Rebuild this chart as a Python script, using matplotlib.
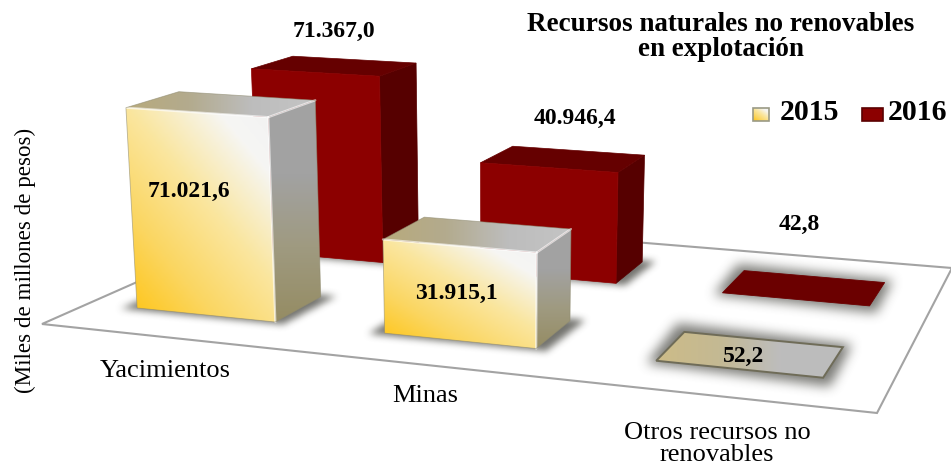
import numpy as np
import matplotlib
matplotlib.use("Agg")
import matplotlib.pyplot as plt
from matplotlib.colors import LinearSegmentedColormap, to_rgb
from matplotlib.patches import Polygon
from matplotlib.path import Path

plt.rcParams["font.family"] = ["Liberation Serif", "DejaVu Serif"]

# data
categories = ["Yacimientos", "Minas", "Otros recursos no\nrenovables"]
years = ["2015", "2016"]
values_2015 = [71021.6, 31915.1, 52.2]
values_2016 = [71367.0, 40946.4, 42.8]

W, H = 951, 470

# floor homography: corners of the floor, in figure pixels
FLOOR = [(42, 324), (877, 413), (952, 268), (291, 214)]
U_START = 0.068      # left edge of first group
U_STEP = 0.3335      # group spacing
U_WIDTH = 0.19       # bar width
V_FRONT = {"2015": 0.155, "2016": 0.64}
V_DEPTH = 0.19
VANISH_X = 500
VANISH_DIST = 6500

# gold/grey shading of the 2015 bars
GOLD = LinearSegmentedColormap.from_list(
    "gold", [(0, "#FFC30F"), (0.28, "#FBD661"), (0.55, "#FAE69F"), (0.82, "#F6F6F4"), (1, "#F2F2F2")])
SIDE = LinearSegmentedColormap.from_list("side", ["#958C63", "#9F9A80", "#A2A2A2", "#A3A3A3"])
TOP = LinearSegmentedColormap.from_list("top", ["#B8AA7C", "#B3AB8E", "#BDBDBD", "#C4C4C4"])
FLAT = LinearSegmentedColormap.from_list("flat", ["#CDBC88", "#C4B993", "#BDBDBD", "#BCBCBC"])


def make_floor():
    (x0, y0), (x1, y1), (x2, y2), (x3, y3) = FLOOR
    dx1, dy1 = x1 - x2, y1 - y2
    dx2, dy2 = x3 - x2, y3 - y2
    sx, sy = x0 - x1 + x2 - x3, y0 - y1 + y2 - y3
    det = dx1 * dy2 - dy1 * dx2
    g = (sx * dy2 - sy * dx2) / det
    h = (dx1 * sy - dy1 * sx) / det
    return np.array([[x1 - x0 + g * x1, x3 - x0 + h * x3, x0],
                     [y1 - y0 + g * y1, y3 - y0 + h * y3, y0],
                     [g, h, 1.0]])


HOMO = make_floor()


def project(u, v, value=0.0):
    """Floor position (u, v) and bar value to a figure pixel."""
    px = HOMO @ np.array([u, v, 1.0])
    x, y = px[0] / px[2], px[1] / px[2]
    height = value * 4.6e-6 * (y + 305)
    return (x + (x - VANISH_X) / VANISH_DIST * height, y - height)


def shade(ax, quad, cmap, angle, zorder):
    """Fill a quad with a gradient running along angle (degrees)."""
    pts = np.array(quad)
    x0, y0 = pts.min(axis=0)
    x1, y1 = pts.max(axis=0)
    xx, yy = np.meshgrid(np.linspace(0, 1, 128), np.linspace(0, 1, 128))
    a = np.radians(angle)
    t = (xx * np.cos(a) + yy * np.sin(a))
    t = (t - t.min()) / (t.max() - t.min())
    # row 0 is the bottom in the image so that angle 90 runs upwards
    img = ax.imshow(t, cmap=cmap, extent=(x0, x1, y1, y0), origin="lower", vmin=0, vmax=1,
                    aspect="auto", zorder=zorder, interpolation="bilinear")
    clip = Polygon(quad, closed=True, transform=ax.transData, fc="none", ec="none")
    ax.add_patch(clip)
    img.set_clip_path(clip)


def blur(a, r):
    kernel = np.ones(2 * r + 1) / (2 * r + 1)
    for _ in range(3):
        a = np.apply_along_axis(lambda m: np.convolve(m, kernel, mode="same"), 0, a)
        a = np.apply_along_axis(lambda m: np.convolve(m, kernel, mode="same"), 1, a)
    return a


def footprint(i, year):
    u0 = U_START + i * U_STEP
    u1 = u0 + U_WIDTH
    v0 = V_FRONT[year]
    v1 = v0 + V_DEPTH
    return u0, u1, v0, v1


def bar_corners(i, year, value):
    u0, u1, v0, v1 = footprint(i, year)
    return dict(
        fl=project(u0, v0), fr=project(u1, v0), br=project(u1, v1),
        tfl=project(u0, v0, value), tfr=project(u1, v0, value),
        tbr=project(u1, v1, value), tbl=project(u0, v1, value))


def draw_shadows(ax):
    yy, xx = np.mgrid[0:H, 0:W]
    grid = np.column_stack([xx.ravel() + 0.5, yy.ravel() + 0.5])
    alpha = np.zeros((H, W))
    for year, vals in zip(years, (values_2015, values_2016)):
        for i, val in enumerate(vals):
            u0, u1, v0, v1 = footprint(i, year)
            pts = np.array([project(u0, v0), project(u1, v0), project(u1, v1), project(u0, v1)])
            flat = val < 1000
            # widen the footprint, the shadow spills past the bar
            centre = pts.mean(axis=0)
            spread = np.array([1.10, 1.38]) if flat else np.array([1.17, 1.12])
            wide = centre + (pts - centre) * spread
            mask = Path(np.vstack([wide, wide[:1]])).contains_points(grid).reshape(H, W).astype(float)
            alpha = np.maximum(alpha, blur(mask, 5 if flat else 3) * (0.75 if flat else 0.8))
    rgba = np.zeros((H, W, 4))
    rgba[..., :3] = to_rgb("#50504A")
    rgba[..., 3] = alpha
    ax.imshow(rgba, extent=(0, W, H, 0), origin="upper", aspect="auto", zorder=2)


def draw_gold_bar(ax, i, value, zorder):
    c = bar_corners(i, "2015", value)
    if value < 1000:
        u0, u1, v0, v1 = footprint(i, "2015")
        quad = [project(u0, v0), project(u1, v0), project(u1, v1), project(u0, v1)]
        shade(ax, quad, FLAT, 0, zorder)
        ax.add_patch(Polygon(quad, closed=True, fc="none", ec="#6F6C58", lw=1.4, zorder=zorder + 0.1))
        return
    shade(ax, [c["fr"], c["br"], c["tbr"], c["tfr"]], SIDE, 90, zorder)
    shade(ax, [c["tfl"], c["tfr"], c["tbr"], c["tbl"]], TOP, 0, zorder)
    shade(ax, [c["fl"], c["fr"], c["tfr"], c["tfl"]], GOLD, 50, zorder + 0.1)
    # bevel highlights along the top edges
    for a, b in ((c["tfl"], c["tfr"]), (c["tfr"], c["tbr"]), (c["tfr"], c["fr"])):
        ax.plot([a[0], b[0]], [a[1], b[1]], color="white", lw=1.6, alpha=0.6, zorder=zorder + 0.2,
                solid_capstyle="round")
    outline = [c["fl"], c["fr"], c["br"], c["tbr"], c["tbl"], c["tfl"]]
    ax.add_patch(Polygon(outline, closed=True, fc="none", ec="#8E8A70", lw=0.6, alpha=0.6,
                         zorder=zorder + 0.3))


def draw_red_bar(ax, i, value, zorder):
    c = bar_corners(i, "2016", value)
    if value < 1000:
        u0, u1, v0, v1 = footprint(i, "2016")
        quad = [project(u0, v0), project(u1, v0), project(u1, v1), project(u0, v1)]
        ax.add_patch(Polygon(quad, closed=True, fc="#6B0000", ec="#6B0000", lw=0.6, zorder=zorder))
        return
    ax.add_patch(Polygon([c["fr"], c["br"], c["tbr"], c["tfr"]], closed=True, fc="#560000",
                         ec="#560000", lw=0.5, zorder=zorder))
    ax.add_patch(Polygon([c["tfl"], c["tfr"], c["tbr"], c["tbl"]], closed=True, fc="#650000",
                         ec="#650000", lw=0.5, zorder=zorder))
    ax.add_patch(Polygon([c["fl"], c["fr"], c["tfr"], c["tfl"]], closed=True, fc="#8C0000",
                         ec="#8C0000", lw=0.5, zorder=zorder + 0.1))


def fmt(v):
    return f"{v:,.1f}".replace(",", "#").replace(".", ",").replace("#", ".")


fig = plt.figure(figsize=(W / 100, H / 100), dpi=100, facecolor="white")
ax = fig.add_axes([0, 0, 1, 1])

# floor outline
ax.add_patch(Polygon(FLOOR, closed=True, fc="white", ec="#A3A3A3", lw=1.5, zorder=1))
draw_shadows(ax)

for i, val in enumerate(values_2016):
    draw_red_bar(ax, i, val, 3 + i * 0.5)
for i, val in enumerate(values_2015):
    draw_gold_bar(ax, i, val, 5 + i)

# value labels
label_pos_2015 = [(189, 191), (456, 293), (744, 356)]
label_pos_2016 = [(334, 31), (575, 118), (799, 224)]
for vals, places in ((values_2015, label_pos_2015), (values_2016, label_pos_2016)):
    for val, (x, y) in zip(vals, places):
        ax.text(x, y, fmt(val), ha="center", va="center", fontsize=17, fontweight="bold",
                color="black", zorder=10)

# category labels
cat_pos = [(165, 371), (425, 396), (717, 444)]
for name, (x, y) in zip(categories, cat_pos):
    ax.text(x, y, name, ha="center", va="center", fontsize=19, linespacing=1.0, zorder=10)

ax.text(721, 37, "Recursos naturales no renovables\nen explotación", ha="center", va="center",
        fontsize=19.5, fontweight="bold", linespacing=1.05, zorder=10)
ax.text(25, 260, "(Miles de millones de pesos)", rotation=90, ha="center", va="center",
        fontsize=16.6, zorder=10)

# legend
shade(ax, [(753, 108), (769, 108), (769, 121), (753, 121)], GOLD, 50, 10)
ax.add_patch(Polygon([(753, 108), (769, 108), (769, 121), (753, 121)], closed=True, fc="none",
                     ec="#9A9A85", lw=1.2, zorder=11))
ax.add_patch(Polygon([(862, 108), (883, 108), (883, 121), (862, 121)], closed=True, fc="#8C0000",
                     ec="#5A0000", lw=1.2, zorder=11))
ax.text(780, 113, years[0], ha="left", va="center", fontsize=21.5, fontweight="bold", zorder=11)
ax.text(888, 113, years[1], ha="left", va="center", fontsize=21.5, fontweight="bold", zorder=11)

ax.set_xlim(0, W)
ax.set_ylim(H, 0)
ax.axis("off")
fig.savefig("out.png", dpi=100)
plt.close(fig)
